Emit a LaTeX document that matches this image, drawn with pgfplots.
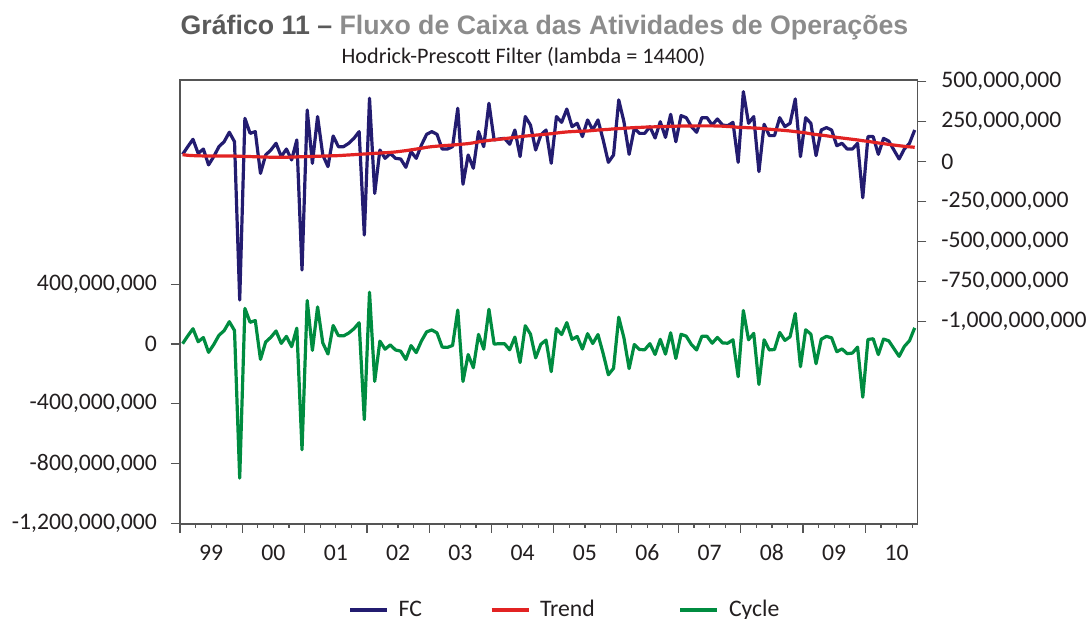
\documentclass[border=0pt]{standalone}
\usepackage{pgfplots}
\pgfplotsset{compat=1.18}
\usepackage{pgfplotstable}
\usepackage{fontspec}
\setmainfont{Carlito}
\newfontfamily\arialfont{Liberation Sans}
\definecolor{fcblue}{RGB}{35,28,112}
\definecolor{trred}{RGB}{226,35,35}
\definecolor{cygreen}{RGB}{0,140,64}
\definecolor{axgray}{RGB}{85,85,85}
\definecolor{tdark}{RGB}{90,90,90}
\definecolor{tlight}{RGB}{140,140,140}
\definecolor{txt}{RGB}{35,31,32}

\pgfplotstableread{
i fc tr cy
0 46 44 2
1 94 40 54
2 140 38 102
3 52 37 15
4 79 36 43
5 -20 36 -56
6 32 36 -4
7 94 36 58
8 125 36 89
9 184 35 149
10 125 35 90
11 -864 34 -898
12 271 33 238
13 177 32 145
14 188 31 157
15 -73 30 -103
16 42 29 13
17 73 28 45
18 115 28 87
19 32 28 4
20 79 28 51
21 11 29 -18
22 136 30 106
23 -677 31 -708
24 323 32 291
25 -10 33 -43
26 282 34 248
27 42 35 7
28 -31 36 -67
29 161 37 124
30 94 38 56
31 94 40 54
32 115 42 73
33 146 44 102
34 188 46 142
35 -458 48 -506
36 396 50 346
37 -198 52 -250
38 73 54 19
39 21 56 -35
40 52 58 -6
41 21 61 -40
42 17 65 -48
43 -35 69 -104
44 63 74 -11
45 21 79 -58
46 104 84 20
47 171 90 81
48 188 94 94
49 171 97 74
50 79 100 -21
51 79 102 -23
52 94 104 -10
53 334 107 227
54 -141 110 -251
55 42 113 -71
56 -41 118 -159
57 188 124 64
58 94 129 -35
59 365 133 232
60 136 137 -1
61 142 140 2
62 146 144 2
63 109 148 -39
64 198 152 46
65 32 156 -124
66 282 160 122
67 229 163 66
68 73 166 -93
69 167 169 -2
70 198 172 26
71 -10 175 -185
72 282 179 103
73 246 183 63
74 329 186 143
75 219 188 31
76 240 190 50
77 157 191 -34
78 261 192 69
79 198 195 3
80 261 198 63
81 136 200 -64
82 -4 202 -206
83 42 205 -163
84 386 207 179
85 250 209 41
86 46 211 -165
87 209 213 -4
88 177 214 -37
89 177 216 -39
90 219 217 2
91 148 218 -70
92 250 219 31
93 152 220 -68
94 296 221 75
95 125 222 -97
96 288 223 65
97 275 223 52
98 219 223 -4
99 184 224 -40
100 275 224 51
101 275 224 51
102 229 224 5
103 267 223 44
104 229 222 7
105 225 220 5
106 246 218 28
107 -4 215 -219
108 438 214 224
109 240 212 28
110 282 211 71
111 -62 209 -271
112 234 206 28
113 163 203 -40
114 163 200 -37
115 275 198 77
116 219 195 24
117 240 192 48
118 392 188 204
119 32 184 -152
120 275 180 95
121 240 174 66
122 38 170 -132
123 198 166 32
124 213 162 51
125 198 157 41
126 100 152 -52
127 115 148 -33
128 79 144 -65
129 79 140 -61
130 115 136 -21
131 -225 131 -356
132 157 127 30
133 157 122 35
134 46 117 -71
135 146 113 33
136 129 108 21
137 73 104 -31
138 17 100 -83
139 79 96 -17
140 115 93 22
141 198 90 108
}\hpdata

\begin{document}
\begin{tikzpicture}
\path[use as bounding box] (-90pt,-47.5pt) rectangle (454.5pt,262pt);
\pgfplotsset{
  common/.style={
    scale only axis, width=368.65pt, height=222pt,
    at={(0pt,0pt)}, anchor=south west,
    xmin=-0.5, xmax=141.5,
    tick align=outside,
    axis line style={axgray, line width=0.75pt},
    every tick/.style={axgray, line width=0.6pt},
    major tick length=4.5pt,
    minor tick length=2pt,
    tick label style={font=\fontsize{11.85}{14}\selectfont, text=txt},
    clip=false,
  }
}
\begin{axis}[common,
  ymin=-1205, ymax=1767,
  xtick pos=left, ytick pos=left,
  ytick={-1200,-800,-400,0,400},
  yticklabels={{-1,200,000,000},{-800,000,000},{-400,000,000},{0},{400,000,000}},
  yticklabel style={xshift=-3.5pt},
  xtick={-0.5,11.5,...,131.5}, xticklabels={},
  minor xtick={-0.5,2.5,...,140.5},
  extra x ticks={5.5,17.5,...,137.5},
  extra x tick labels={99,00,01,02,03,04,05,06,07,08,09,10},
  extra x tick style={major tick length=0pt, tick label style={yshift=-8pt, text height=1.45ex, text depth=0pt}},
]
\addplot[cygreen, line width=1.6pt, line join=round, no marks] table[x=i, y=cy] {\hpdata};
\end{axis}
\begin{axis}[common,
  ymin=-2264, ymax=510.6,
  axis y line*=right, axis x line=none,
  ytick={-1000,-750,-500,-250,0,250,500},
  yticklabels={{-1,000,000,000},{-750,000,000},{-500,000,000},{-250,000,000},{0},{250,000,000},{500,000,000}},
  yticklabel style={anchor=west, xshift=4pt},
  legend style={at={(0.2279,-0.1937)}, anchor=west, draw=none, fill=none,
    inner sep=0pt, nodes={inner sep=1pt},
    legend columns=3, font=\fontsize{11.85}{14}\selectfont, text=txt,
    /tikz/every odd column/.append style={column sep=4pt},
    /tikz/every even column/.append style={column sep=33pt}},
  legend image code/.code={\draw[#1] (0pt,0pt) -- (18.5pt,0pt);},
]
\addplot[fcblue, line width=1.6pt, line join=round, no marks] table[x=i, y=fc] {\hpdata};
\addplot[trred, line width=1.6pt, line join=round, no marks] table[x=i, y=tr] {\hpdata};
\addlegendimage{cygreen, line width=1.6pt}
\legend{FC, Trend\rule{8pt}{0pt}, Cycle}
\end{axis}
\node[font=\arialfont\bfseries\fontsize{13.36}{15}\selectfont] at (182.25pt,248.5pt) {\textcolor{tdark}{Gráfico 11 –} \textcolor{tlight}{Fluxo de Caixa das Atividades de Operações}};
\node[font=\fontsize{11.1}{13}\selectfont, text=txt] at (171.75pt,233.5pt) {Hodrick-Prescott Filter (lambda = 14400)};
\end{tikzpicture}
\end{document}
